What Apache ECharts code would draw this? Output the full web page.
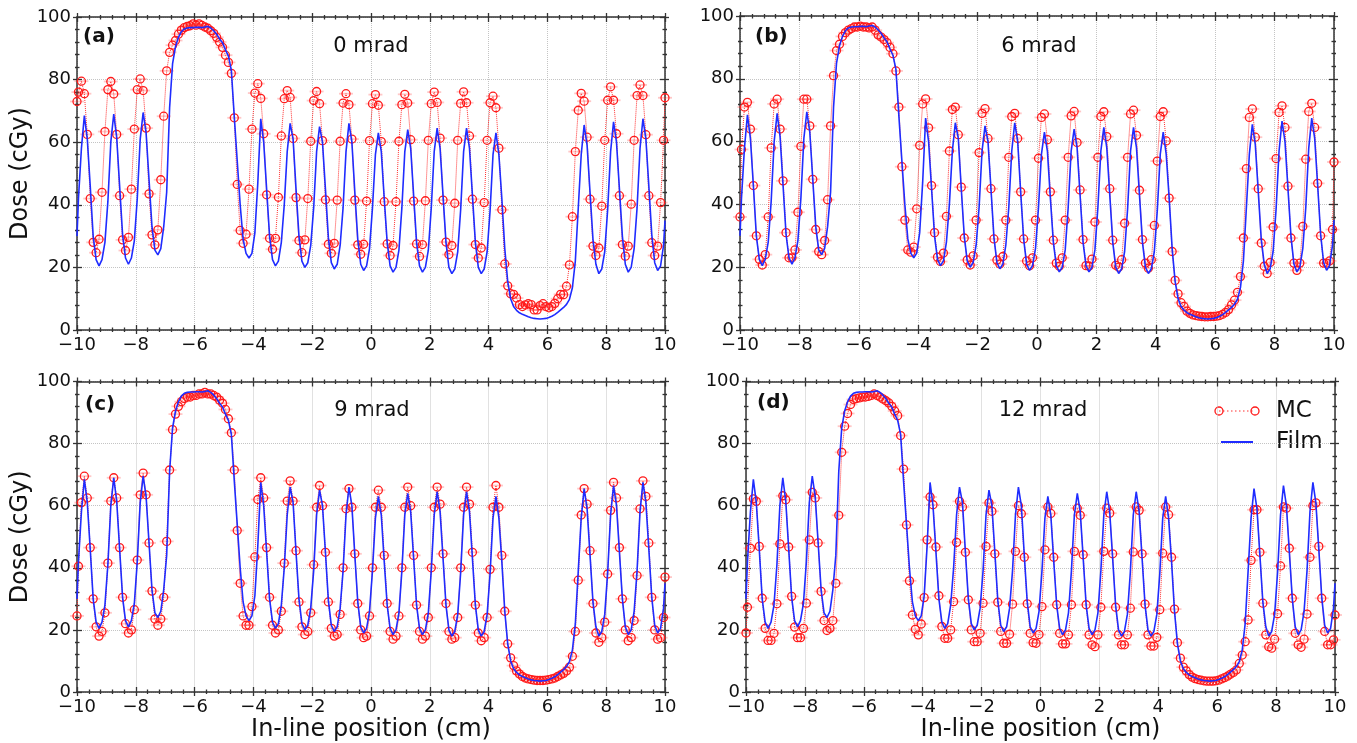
<!DOCTYPE html>
<html>
<head>
<meta charset="utf-8">
<title>In-line dose profiles</title>
<script src="https://cdn.jsdelivr.net/npm/echarts@6/dist/echarts.min.js"></script>
<style>
html, body { margin: 0; padding: 0; background: #fff; }
#chart { width: 1357px; height: 743px; }
</style>
</head>
<body>
<div id="chart"></div>
<script>
// sample positions (cm), shared by all profiles
var xPos = [-10,
  -9.95,-9.85,-9.75,-9.65,-9.55,-9.45,-9.35,-9.25,-9.15,-9.05,
  -8.95,-8.85,-8.75,-8.65,-8.55,-8.45,-8.35,-8.25,-8.15,-8.05,
  -7.95,-7.85,-7.75,-7.65,-7.55,-7.45,-7.35,-7.25,-7.15,-7.05,
  -6.95,-6.85,-6.75,-6.65,-6.55,-6.45,-6.35,-6.25,-6.15,-6.05,
  -5.95,-5.85,-5.75,-5.65,-5.55,-5.45,-5.35,-5.25,-5.15,-5.05,
  -4.95,-4.85,-4.75,-4.65,-4.55,-4.45,-4.35,-4.25,-4.15,-4.05,
  -3.95,-3.85,-3.75,-3.65,-3.55,-3.45,-3.35,-3.25,-3.15,-3.05,
  -2.95,-2.85,-2.75,-2.65,-2.55,-2.45,-2.35,-2.25,-2.15,-2.05,
  -1.95,-1.85,-1.75,-1.65,-1.55,-1.45,-1.35,-1.25,-1.15,-1.05,
  -0.95,-0.85,-0.75,-0.65,-0.55,-0.45,-0.35,-0.25,-0.15,-0.05,
  0.05,0.15,0.25,0.35,0.45,0.55,0.65,0.75,0.85,0.95,
  1.05,1.15,1.25,1.35,1.45,1.55,1.65,1.75,1.85,1.95,
  2.05,2.15,2.25,2.35,2.45,2.55,2.65,2.75,2.85,2.95,
  3.05,3.15,3.25,3.35,3.45,3.55,3.65,3.75,3.85,3.95,
  4.05,4.15,4.25,4.35,4.45,4.55,4.65,4.75,4.85,4.95,
  5.05,5.15,5.25,5.35,5.45,5.55,5.65,5.75,5.85,5.95,
  6.05,6.15,6.25,6.35,6.45,6.55,6.65,6.75,6.85,6.95,
  7.05,7.15,7.25,7.35,7.45,7.55,7.65,7.75,7.85,7.95,
  8.05,8.15,8.25,8.35,8.45,8.55,8.65,8.75,8.85,8.95,
  9.05,9.15,9.25,9.35,9.45,9.55,9.65,9.75,9.85,9.95,
  10];

// measured film profile (same in every panel)
var filmDose = [30,
  42,58,68.5,61,46,30,22.5,20.5,22.5,28,
  41,60,69,61.5,46,30.5,23,21,23,28.5,
  42,61,69.5,63,48,33,25.5,24,26,33,
  44,71,85,90.5,93.5,95.3,96.2,96.5,96.6,96.6,
  96.7,96.7,96.6,96.8,97,96.5,95.6,94.5,93,91.8,
  89.5,87.5,83,68,54,40,29,24.5,23,24.5,
  31,47,67.5,60,45,30,22.5,20.5,22,28,
  40,57,66,61,45,30,22,20,21.5,27,
  39,57,65,60,45,29.5,21.5,19.5,21,27,
  39,57,66,60,44,29,21,19,20.5,26,
  39,56,63,57,42,28,20.5,18.5,20,25.5,
  39,57,64,58,43,28,20.5,18.5,20,25.5,
  39,57,64.5,58,43,28,20,18,19.5,25,
  38.5,57,64.5,58,43,28,20,18,19.5,25,
  38,56,63,56,42,26,15.5,10,7.5,6.3,
  5.5,5,4.6,4.2,3.9,3.7,3.6,3.5,3.6,3.7,
  4,4.4,4.9,5.6,6.4,7.2,8.2,9.8,13.5,22,
  39,56,65.5,59,44,29,21,18,19.5,25,
  38.5,57,66.5,60,45,30,21,18.5,20,26,
  39,58,67.5,61,46,30.5,21.5,19,20.5,27,
  35];

// Monte Carlo profiles, 0 / 6 / 9 / 12 mrad
var mc0 = [73,
  76,79.5,75.5,62.5,42,28,24.7,29,44,63.4,
  76.8,79.4,75.4,62.5,42.9,28.8,25.4,29.6,45,64.2,
  76.8,80.2,76.5,64.5,43.5,30.4,27.2,32,48,68.3,
  82.8,88.7,91,92.5,94.5,95.8,96.6,97,97.2,97.8,
  97.4,97.8,97.3,96.8,96.4,95.6,94.8,93.5,92,90.3,
  87.8,85.5,82,67.8,46.5,31.8,27.7,30.6,45,64.2,
  75.7,78.7,74,62.7,43.2,29.3,25.8,29.3,42.4,62,
  73.9,76.5,74.3,61.2,42.3,28.6,24.7,28.8,42,60.3,
  73.3,76.2,72.3,60.5,41.6,27.4,24.5,27.7,41.5,60.3,
  72.5,75.5,72,61,41.5,27.2,24.2,27.4,41.2,60.5,
  72.3,75.2,71.8,60.2,41,27.5,23.8,27,41,60.3,
  72,75.3,72.5,60.8,41.2,27.5,23.5,27.3,41.3,60.6,
  72.3,76,72.7,61.3,41.5,28.1,24.1,27,40.5,60.6,
  72.4,76.1,72.6,62,41.8,27.3,23,26.2,40.7,60.6,
  72.6,74.7,71,58.1,38.4,21.1,14.1,11.6,11.4,10.2,
  8.1,7.5,8,8.4,8.1,6.4,6.4,7.8,8.4,7.5,
  7.1,7.5,8.5,10,11.4,11.3,14,20.8,36.2,57,
  70.2,75.6,73.1,61.6,41.8,26.8,23.8,26.2,39.6,60.6,
  73.4,77.7,73.4,62.7,42.9,27.3,23.6,26.8,40.2,60.6,
  74.9,78.3,74.9,62.4,42.9,27.9,23.8,26.8,40.7,60.6,
  74.2];

var mc6 = [36,
  57.5,71,72.5,64,46,30,22.5,20.7,24,36,
  58,72,73.5,64,47.5,31,23,23,25.5,37.5,
  58.5,73.5,73.5,65,48,32,25,24,28.5,41.5,
  65,81,89,91,93.5,94.7,95.5,96,96.5,96.5,
  96.8,96.5,96.5,96.2,96.5,95.5,94,93.3,92.5,91.5,
  90,88,82.5,71,52,35,25.5,24.8,26.4,38.6,
  58.8,72,73.6,64.4,46,31,23.2,21.8,24.5,36.2,
  57,70.2,71,62.2,45.5,29.3,22.3,20.7,23.6,35,
  56.5,69,70.5,61,45,29,22.3,21,23.4,35,
  55,68,69,61,44,29,22,20.5,23,35,
  54.7,67.7,68.8,60.6,44,28.6,21.3,20.3,23,35,
  55,68.2,69.6,59.7,44.6,28.8,20.5,20.3,22.6,34.4,
  55,68,69.5,61.6,45,28.6,20.6,20,22.4,34,
  55,68.8,70,62,44.5,28.8,21.3,19.7,22.4,33.3,
  53.8,68,69.5,60.2,42,25,15.8,11.5,8.7,7.5,
  6,5.3,4.8,4.6,4.4,4.3,4.2,4.2,4.3,4.3,
  4.4,4.6,5,5.6,6.5,8,9.5,12,17,29.3,
  51.4,67.7,70.4,61.4,45,27.7,20.3,18,21.5,32.8,
  54.6,69.3,71.4,64.5,45.8,29.3,21.3,19,21.3,33,
  54.4,69.6,72.2,64.5,46.7,30,21.3,21.3,22,32,
  53.5];

var mc9 = [24.5,
  40.5,61,69.5,62.5,46.5,30,21,18,19.5,25.5,
  41.5,61.5,69,62.5,46.5,30.5,22,19,20,26.5,
  42.5,63.5,70.5,63.5,48,32.5,23.5,21.5,23.5,30.5,
  48.5,71.5,84.5,89.5,92,93.5,94.5,95,95,95.5,
  95.5,96,96,96.5,96,96,95.5,95,94,93,
  91,88,83.5,71.5,52,35,24.5,21.5,21.5,27.5,
  43.5,62,69,62.5,46.5,30.5,21.5,19,20,26,
  41.5,61.5,68,61.5,45.5,29,21,18.5,19.5,25.5,
  41,59.5,66.5,60,45,29,20.5,18,18.5,25,
  40,59,65.5,59.5,44.5,28.5,20,17.5,18,24.5,
  40,59.5,65,59.5,44,28.5,19.5,17,18,24.5,
  40,59.5,66,60,44,28,19.5,17,18,24,
  40,59.5,66,60.5,44.5,28.5,19.5,17,17.5,24,
  40,59.5,66,60.5,45,28,19,16.5,17.5,24,
  39.5,59.5,66.5,59.5,44,26,15.5,11,8.5,6.8,
  5.8,5,4.5,4.2,4,3.8,3.7,3.7,3.7,3.8,
  4,4.2,4.5,5,5.5,6,6.8,8,11.5,19.5,
  36,57,65.5,60.5,45.5,28.5,19,16,17.5,22.5,
  38,58.5,67.5,62.5,46.5,30,20,16.5,17.5,23,
  37.5,59,68,63,48,30.5,20,17,17.5,24,
  37];

var mc12 = [19,
  27.3,46.3,62.2,61.4,46.9,30.2,20.5,16.6,16.6,18.9,
  28.4,47.7,63.2,61.9,46.7,30.8,20.9,17.5,17.5,20.5,
  28.6,49,64.3,62.5,48,32.4,23,19.8,20.5,23,
  35,56.9,77.2,85.6,89.7,92.6,94.2,94.5,94.7,95,
  95,95.2,95.5,96,95.5,95,94.4,93.8,93.1,92,
  90.5,89,82.6,71.8,53.8,35.8,24.8,20.2,18.4,21.9,
  30.4,49,62.8,60.3,46.7,31,21.1,17.3,17.3,20,
  29.1,48.2,61.4,59.6,45,29.7,20,16.2,16.2,18.9,
  28.6,46.9,60.9,58.2,44.5,28.9,19.5,15.7,15.7,18.6,
  28.3,45.3,60,57.4,43.4,28.4,18.9,15.9,15.7,18.5,
  27.5,45.8,59.6,57.5,43.4,28.1,18.9,15.5,15.5,18.4,
  28.1,45.3,59.2,56.9,44.2,28.1,18.4,15.2,14.6,18.4,
  27.3,45.3,59.2,57.6,44.5,27.3,18.4,15.2,15.2,18.4,
  27,45.1,59.6,58.5,44.5,28.3,18.4,14.8,14.8,17.6,
  26.5,44.7,59.6,57.1,43.4,26.7,15.9,10.9,8,6.8,
  5.6,4.8,4.3,4,3.8,3.6,3.5,3.5,3.5,3.6,
  3.8,4.2,4.6,5.1,5.7,6.3,7.1,9.2,11.9,16.2,
  23.2,42.4,58.7,58.7,45,28.6,18.4,14.6,14.1,17,
  25.2,40.6,59.6,59.2,46.3,30.2,18.9,15.2,14.4,17,
  25.1,43.4,60,60.9,46.9,30.2,19.5,15.2,15.2,16.8,
  24.8];

var mcSets = [mc0, mc6, mc9, mc12];
var panelTags = ['(a)', '(b)', '(c)', '(d)'];
var panelAngles = ['0 mrad', '6 mrad', '9 mrad', '12 mrad'];

var FONT = 'DejaVu Sans';
var boxes = [
  {left: 77, top: 17, width: 588, height: 313},
  {left: 740, top: 16, width: 594, height: 314},
  {left: 77, top: 381.5, width: 588, height: 310.5},
  {left: 746, top: 381.5, width: 589, height: 310.5}
];
var tagPos = [[83, 37], [755, 37], [85, 405], [757, 403]];
var anglePos = [[371, 47], [1039, 47], [372, 411], [1043, 411]];

function pairs(vals) {
  var out = [];
  for (var i = 0; i < xPos.length; i++) out.push([xPos[i], vals[i]]);
  return out;
}

function fmtX(v) {
  return v < 0 ? '\u2212' + (-v) : String(v);
}

var tickStyle = {color: '#333', width: 1.3};

function makeAxis(kind, g, pos, inside, opts) {
  var a = {
    type: 'value', gridIndex: g, position: pos,
    min: kind === 'x' ? -10 : 0,
    max: kind === 'x' ? 10 : 100,
    interval: kind === 'x' ? 2 : 20,
    axisLine: {show: !!opts.line, onZero: false, lineStyle: {color: '#333', width: 1.5}},
    axisTick: {show: true, inside: inside, length: inside ? 5 : 4, lineStyle: tickStyle},
    minorTick: {show: true, splitNumber: 5, length: inside ? 2.5 : 2, lineStyle: tickStyle},
    axisLabel: {show: !!opts.label, margin: 6, fontSize: 18, color: '#111', fontFamily: FONT,
      formatter: kind === 'x' ? fmtX : '{value}'},
    splitLine: {show: !!opts.grid, lineStyle: {color: '#c4c4c4', type: 'dotted', width: 1}}
  };
  if (opts.name) {
    a.name = opts.name;
    a.nameLocation = 'middle';
    a.nameGap = opts.gap;
    a.nameTextStyle = {fontSize: 24, fontFamily: FONT, color: '#111'};
  }
  return a;
}

var grids = [], xAxes = [], yAxes = [], series = [], graphics = [];

for (var g = 0; g < 4; g++) {
  grids.push({left: boxes[g].left, top: boxes[g].top, width: boxes[g].width, height: boxes[g].height});

  var xName = g >= 2 ? {name: 'In-line position (cm)', gap: 26} : {};
  var yName = g % 2 === 0 ? {name: 'Dose (cGy)', gap: 38} : {};

  xAxes.push(makeAxis('x', g, 'bottom', true, Object.assign({line: true, label: true, grid: true}, xName)));
  xAxes.push(makeAxis('x', g, 'bottom', false, {}));
  xAxes.push(makeAxis('x', g, 'top', true, {line: true}));
  xAxes.push(makeAxis('x', g, 'top', false, {}));

  yAxes.push(makeAxis('y', g, 'left', true, Object.assign({line: true, label: true, grid: true}, yName)));
  yAxes.push(makeAxis('y', g, 'left', false, {}));
  yAxes.push(makeAxis('y', g, 'right', true, {line: true}));
  yAxes.push(makeAxis('y', g, 'right', false, {}));

  // faint horizontal error bars behind MC points
  series.push({
    type: 'scatter', xAxisIndex: g * 4, yAxisIndex: g * 4,
    data: pairs(mcSets[g]), symbol: 'rect', symbolSize: [14, 1.8],
    itemStyle: {color: 'rgba(255,40,40,0.32)'}, silent: true, z: 1
  });
  series.push({
    name: 'MC', type: 'line', xAxisIndex: g * 4, yAxisIndex: g * 4,
    data: pairs(mcSets[g]), symbol: 'circle', symbolSize: 8, showSymbol: true,
    lineStyle: {color: '#ff3030', width: 1, type: 'dotted'},
    itemStyle: {color: 'rgba(255,255,255,0)', borderColor: '#ff1a1a', borderWidth: 1.3},
    emphasis: {disabled: true}, z: 2
  });
  series.push({
    name: 'Film', type: 'line', xAxisIndex: g * 4, yAxisIndex: g * 4,
    data: pairs(filmDose), symbol: 'none',
    lineStyle: {color: '#1f2cff', width: 1.6},
    emphasis: {disabled: true}, z: 3
  });

  graphics.push({type: 'text', x: tagPos[g][0], y: tagPos[g][1],
    style: {text: panelTags[g], font: 'bold 20px "DejaVu Sans"', fill: '#111', textVerticalAlign: 'middle'}});
  graphics.push({type: 'text', x: anglePos[g][0], y: anglePos[g][1],
    style: {text: panelAngles[g], font: '21px "DejaVu Sans"', fill: '#111', textAlign: 'center', textVerticalAlign: 'middle'}});
}

// legend (panel d)
graphics.push({type: 'line', shape: {x1: 1219, y1: 411, x2: 1255, y2: 411},
  style: {stroke: '#ff3030', lineWidth: 1, lineDash: [1.5, 2.5]}});
graphics.push({type: 'circle', shape: {cx: 1219, cy: 411, r: 4}, style: {fill: 'none', stroke: '#ff1a1a', lineWidth: 1.3}});
graphics.push({type: 'circle', shape: {cx: 1255, cy: 411, r: 4}, style: {fill: 'none', stroke: '#ff1a1a', lineWidth: 1.3}});
graphics.push({type: 'text', x: 1276, y: 411,
  style: {text: 'MC', font: '23px "DejaVu Sans"', fill: '#111', textVerticalAlign: 'middle'}});
graphics.push({type: 'line', shape: {x1: 1221, y1: 442, x2: 1253, y2: 442},
  style: {stroke: '#1f2cff', lineWidth: 2}});
graphics.push({type: 'text', x: 1276, y: 442,
  style: {text: 'Film', font: '23px "DejaVu Sans"', fill: '#111', textVerticalAlign: 'middle'}});

var chart = echarts.init(document.getElementById('chart'), null, {renderer: 'canvas'});
chart.setOption({
  backgroundColor: '#fff',
  animation: false,
  textStyle: {fontFamily: FONT},
  grid: grids,
  xAxis: xAxes,
  yAxis: yAxes,
  series: series,
  graphic: graphics
});
</script>
</body>
</html>
